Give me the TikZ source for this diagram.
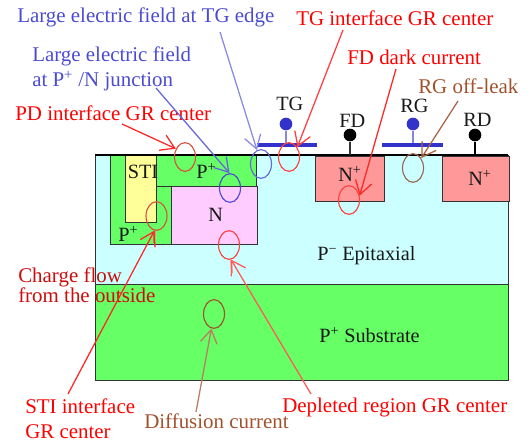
\documentclass[tikz,border=0pt]{standalone}
\usepackage{fontspec}
\setmainfont{Liberation Serif}
\usetikzlibrary{arrows.meta,shapes.geometric}
\definecolor{epi}{HTML}{CCFFFF}
\definecolor{grn}{HTML}{66FF66}
\definecolor{stiY}{HTML}{FFFF99}
\definecolor{pnk}{HTML}{FFCCFF}
\definecolor{nplus}{HTML}{FF9999}
\definecolor{gate}{HTML}{3333CC}
\definecolor{brn}{HTML}{A0522D}
\definecolor{bluetxt}{HTML}{4B4BD2}
\definecolor{dred}{HTML}{CC0D0D}
\definecolor{pdring}{HTML}{D85040}
\tikzset{
 x=0.75pt,y=-0.75pt,
 region/.style={draw=black!80,line width=0.75pt},
 lab/.style={anchor=base west,inner sep=0pt,font=\fontsize{15.2pt}{18pt}\selectfont,text=black!90},
 redt/.style={lab,font=\fontsize{15.7pt}{18pt}\selectfont,text=red},
 bluet/.style={lab,font=\fontsize{15.7pt}{18pt}\selectfont,text=bluetxt},
 brownt/.style={lab,font=\fontsize{15.7pt}{18pt}\selectfont,text=brn},
 spot/.style={ellipse,draw=#1,line width=0.85pt,inner sep=0pt,minimum width=15.75pt,minimum height=21.5pt},
 con/.style={draw=#1,line width=0.95pt,-{Straight Barb[length=10pt,width=12.5pt,line width=0.95pt]}},
 pin/.style={circle,inner sep=0pt,minimum size=9.5pt,fill=#1},
 stem/.style={draw=#1,line width=0.9pt},
 stub/.style={draw=#1,line width=1.5pt},
}
\begin{document}
\begin{tikzpicture}
\useasboundingbox (0,0) rectangle (532,446);
% regions
\draw[region,fill=epi] (95,155) rectangle (508,284);
\draw[region,fill=grn] (95,284) rectangle (508,380);
\draw[region,fill=grn] (110,155) rectangle (171,244);
\draw[region,fill=stiY] (125,155) rectangle (156,222);
\draw[region,fill=grn] (156,155) rectangle (256,186);
\draw[region,fill=pnk] (171,186) rectangle (257,244);
\draw[region,fill=nplus] (315,156) rectangle (384,201);
\draw[region,fill=nplus] (442,156) rectangle (509,201);
\draw[black,line width=1.2pt] (95,155) -- (508,155);
% gates and pins
\node[pin=gate] (tgpin) at (286,124) {};
\node[pin=gate] (rgpin) at (413,124) {};
\node[pin=black] (fdpin) at (350,135) {};
\node[pin=black] (rdpin) at (475,135) {};
\coordinate (tgfoot) at (286,145);
\coordinate (rgfoot) at (413,145);
\coordinate (fdfoot) at (350,155);
\coordinate (rdfoot) at (475,155);
\draw[stem=gate!60] (tgpin) -- (tgfoot);
\draw[stem=gate!60] (rgpin) -- (rgfoot);
\draw[stem=black!80] (fdpin) -- (fdfoot);
\draw[stem=black] (rdpin) -- (rdfoot);
\draw[gate,line width=3.4pt] (257,145) -- (317,145);
\draw[gate,line width=3.4pt] (382,145) -- (443,145);
% region labels
\node[lab] (lsti) at (127.5,178) {STI};
\node[lab] (lp1) at (196,178) {P\textsuperscript{+}};
\node[lab] (ln) at (208,221) {N};
\node[lab] (lp2) at (118,241) {P\textsuperscript{+}};
\node[lab] (ln1) at (338,181) {N\textsuperscript{+}};
\node[lab] (ln2) at (468,185) {N\textsuperscript{+}};
\node[lab] (lepi) at (317,260) {P\textsuperscript{−} Epitaxial};
\node[lab] (lsub) at (319,342) {P\textsuperscript{+} Substrate};
\node[lab] (ltg) at (276,110) {TG};
\node[lab] (lfd) at (339,127) {FD};
\node[lab] (lrg) at (400,112) {RG};
\node[lab] (lrd) at (463,126) {RD};
% spots
\node[spot=pdring] (sPD) at (185,157) {};
\node[spot=bluetxt] (sJ) at (230,188) {};
\node[spot=bluetxt!85] (sE) at (261,164) {};
\node[spot=red!75] (sTG) at (289,157) {};
\node[spot=red!75] (sFD) at (349,200) {};
\node[spot=brn!80!black!80] (sRG) at (413,168) {};
\node[spot=pdring] (sSTI) at (156.5,216) {};
\node[spot=red!75] (sDep) at (229,245) {};
\node[spot=brn] (sDif) at (214,314) {};
% texts
\node[bluet] (tE) at (17,22) {Large electric field at TG edge};
\node[bluet] (tJ1) at (32,61) {Large electric field};
\node[bluet] (tJ2) at (32,86) {at P\textsuperscript{+} /N junction};
\node[redt] (tPD) at (15,120) {PD interface GR center};
\node[redt] (tTG) at (296,25) {TG interface GR center};
\node[redt] (tFD) at (347,64) {FD dark current};
\node[brownt] (tRG) at (418,93) {RG off-leak};
\node[lab,font=\fontsize{15.7pt}{18pt}\selectfont,text=dred] (tC1) at (18,282) {Charge flow};
\node[lab,font=\fontsize{15.7pt}{18pt}\selectfont,text=dred] (tC2) at (18,302) {from the outside};
\node[redt] (tS1) at (25,413) {STI interface};
\node[redt] (tS2) at (25,438) {GR center};
\node[brownt] (tD) at (144,428) {Diffusion current};
\node[redt] (tDp) at (282,412) {Depleted region GR center};
% connector tails
\coordinate (aE) at (220,32);
\coordinate (aJ) at (156,88);
\coordinate (aPD) at (122,124);
\coordinate (aTG) at (343,30);
\coordinate (aFD) at (396,69);
\coordinate (aRG) at (458,101);
\coordinate (aS) at (68,394);
\coordinate (aDp) at (311,394);
\coordinate (aD) at (196,412);
\coordinate (bDp) at (232,273);
\coordinate (bS) at (154,243);
\draw[stub=red!40] (sDep.278) -- (bDp);
\draw[stub=red!65] (sSTI.262) -- (bS);
\draw[con=bluetxt!65] (aE) -- (sE.106);
\draw[con=bluetxt!85] (aJ) -- (sJ.92);
\draw[con=red!85] (aPD) -- (sPD.138);
\draw[con=red!75] (aTG) -- (sTG.50);
\draw[con=red!85] (aFD) -- (sFD.22);
\draw[con=brn!90] (aRG) -- (sRG.50);
\draw[con=red!85] (aS) -- (sSTI.262);
\draw[con=red!65] (aDp) -- (sDep.278);
\draw[con=brn!75] (aD) -- (sDif.260);
\end{tikzpicture}
\end{document}
